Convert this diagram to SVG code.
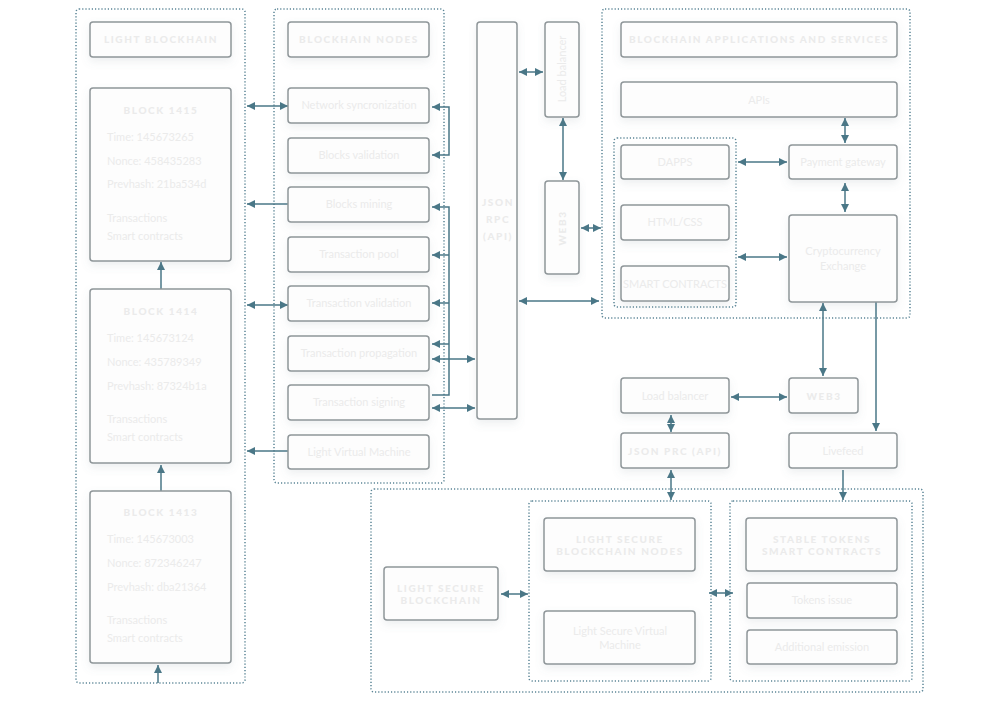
<svg xmlns="http://www.w3.org/2000/svg" width="1000" height="702" viewBox="0 0 1000 702">
<defs>
<filter id="sh" x="-20%" y="-20%" width="140%" height="160%">
<feDropShadow dx="0" dy="4" stdDeviation="4" flood-color="#6d7f88" flood-opacity="0.12"/>
</filter>
<marker id="ah" viewBox="0 0 10 10" refX="10" refY="5" markerWidth="9" markerHeight="8" markerUnits="userSpaceOnUse" orient="auto-start-reverse">
<path d="M0,0 L10,5 L0,10 z" fill="#4a7787"/>
</marker>
<style>
.box{fill:#fdfdfd;stroke:#8f9699;stroke-width:1.5;filter:url(#sh)}
.grp{fill:none;stroke:#5b8596;stroke-width:1.5;stroke-dasharray:1.2 2}
.t{font-family:"Lato","Open Sans",sans-serif;font-size:11px;fill:#ebebeb;text-anchor:middle}
.tl{font-family:"Lato","Open Sans",sans-serif;font-size:11px;fill:#ebebeb}
.h{font-family:"Lato","Open Sans",sans-serif;font-size:10px;font-weight:900;letter-spacing:1.6px;fill:#ebebeb;text-anchor:middle}
.c{fill:none;stroke:#4a7787;stroke-width:1.5}
.d{marker-start:url(#ah);marker-end:url(#ah)}
.e{marker-end:url(#ah)}
</style>
</defs>
<rect width="1000" height="702" fill="#ffffff"/>

<g id="containers">
<rect class="grp" x="76" y="9" width="169" height="674" rx="3"/>
<rect class="grp" x="274" y="9" width="170" height="474" rx="3"/>
<rect class="grp" x="602" y="9" width="308" height="309" rx="3"/>
<rect class="grp" x="614" y="138" width="122" height="169" rx="3"/>
<rect class="grp" x="371" y="489" width="552" height="203" rx="3"/>
<rect class="grp" x="529" y="501" width="182" height="180" rx="3"/>
<rect class="grp" x="730" y="501" width="182" height="180" rx="3"/>
</g>

<g id="connectors">
<path class="c d" d="M247,106 H288"/>
<path class="c e" d="M288,204 H247"/>
<path class="c d" d="M247,305 H288"/>
<path class="c e" d="M288,451 H247"/>
<path class="c e" d="M161,289 V262"/>
<path class="c e" d="M161,491 V465"/>
<path class="c e" d="M158,683 V665"/>
<path class="c d" d="M432,107 H449 V155 H432"/>
<path class="c e" d="M432,395 H449 V207 H432"/>
<path class="c e" d="M449,255 H432"/>
<path class="c e" d="M449,303 H432"/>
<path class="c e" d="M449,344 H432"/>
<path class="c d" d="M432,359 H475"/>
<path class="c d" d="M432,408 H475"/>
<path class="c d" d="M519,72 H543"/>
<path class="c d" d="M563,118 V180"/>
<path class="c d" d="M581,228 H601"/>
<path class="c d" d="M519,301 H599"/>
<path class="c d" d="M845,118 V143"/>
<path class="c d" d="M738,162 H787"/>
<path class="c d" d="M845,183 V212"/>
<path class="c d" d="M738,257 H787"/>
<path class="c d" d="M823,303 V376"/>
<path class="c e" d="M876,302 V431"/>
<path class="c d" d="M731,397 H787"/>
<path class="c d" d="M671,415 V432"/>
<path class="c d" d="M671,470 V500"/>
<path class="c e" d="M843,470 V500"/>
<path class="c d" d="M501,594 H528"/>
<path class="c d" d="M709,593 H733"/>
</g>

<g id="light-blockhain"><rect class="box" x="90" y="22" width="141" height="35" rx="3"/><text class="h" x="161" y="43">LIGHT BLOCKHAIN</text></g>

<g id="block-1415"><rect class="box" x="90" y="88" width="141" height="173" rx="3"/>
<text class="h" x="161" y="114">BLOCK 1415</text>
<text class="tl" x="107" y="141">Time: 145673265</text>
<text class="tl" x="107" y="165">Nonce: 458435283</text>
<text class="tl" x="107" y="188">Prevhash: 21ba534d</text>
<text class="tl" x="107" y="222">Transactions</text>
<text class="tl" x="107" y="240">Smart contracts</text></g>

<g id="block-1414"><rect class="box" x="90" y="289" width="141" height="174" rx="3"/>
<text class="h" x="161" y="315">BLOCK 1414</text>
<text class="tl" x="107" y="342">Time: 145673124</text>
<text class="tl" x="107" y="366">Nonce: 435789349</text>
<text class="tl" x="107" y="390">Prevhash: 87324b1a</text>
<text class="tl" x="107" y="423">Transactions</text>
<text class="tl" x="107" y="441">Smart contracts</text></g>

<g id="block-1413"><rect class="box" x="90" y="491" width="141" height="172" rx="3"/>
<text class="h" x="161" y="516">BLOCK 1413</text>
<text class="tl" x="107" y="543">Time: 145673003</text>
<text class="tl" x="107" y="567">Nonce: 872346247</text>
<text class="tl" x="107" y="591">Prevhash: dba21364</text>
<text class="tl" x="107" y="624">Transactions</text>
<text class="tl" x="107" y="642">Smart contracts</text></g>

<g id="blockhain-nodes"><rect class="box" x="288" y="22" width="141" height="35" rx="3"/><text class="h" x="359" y="43">BLOCKHAIN NODES</text></g>
<g id="network-sync"><rect class="box" x="288" y="88" width="141" height="35" rx="3"/><text class="t" x="359" y="109">Network syncronization</text></g>
<g id="blocks-validation"><rect class="box" x="288" y="138" width="141" height="35" rx="3"/><text class="t" x="359" y="159">Blocks validation</text></g>
<g id="blocks-mining"><rect class="box" x="288" y="187" width="141" height="35" rx="3"/><text class="t" x="359" y="208">Blocks mining</text></g>
<g id="transaction-pool"><rect class="box" x="288" y="237" width="141" height="35" rx="3"/><text class="t" x="359" y="258">Transaction pool</text></g>
<g id="transaction-validation"><rect class="box" x="288" y="286" width="141" height="35" rx="3"/><text class="t" x="359" y="307">Transaction validation</text></g>
<g id="transaction-propagation"><rect class="box" x="288" y="336" width="141" height="35" rx="3"/><text class="t" x="359" y="357">Transaction propagation</text></g>
<g id="transaction-signing"><rect class="box" x="288" y="385" width="141" height="35" rx="3"/><text class="t" x="359" y="406">Transaction signing</text></g>
<g id="light-vm"><rect class="box" x="288" y="435" width="141" height="34" rx="3"/><text class="t" x="359" y="456">Light Virtual Machine</text></g>

<g id="json-rpc"><rect class="box" x="477" y="22" width="40" height="397" rx="3"/>
<text class="h" x="498" y="206">JSON</text>
<text class="h" x="498" y="223">RPC</text>
<text class="h" x="498" y="240">(API)</text></g>

<g id="load-balancer-v"><rect class="box" x="545" y="22" width="34" height="95" rx="3"/><text class="t" transform="translate(566,69) rotate(-90)" x="0" y="0">Load balancer</text></g>
<g id="web3-v"><rect class="box" x="545" y="181" width="34" height="93" rx="3"/><text class="h" transform="translate(566,228) rotate(-90)" x="0" y="0">WEB3</text></g>

<g id="apps-title"><rect class="box" x="621" y="22" width="276" height="35" rx="3"/><text class="h" x="759" y="43">BLOCKHAIN APPLICATIONS AND SERVICES</text></g>
<g id="apis"><rect class="box" x="621" y="82" width="276" height="35" rx="3"/><text class="t" x="759" y="104">APIs</text></g>
<g id="dapps"><rect class="box" x="621" y="145" width="108" height="34" rx="3"/><text class="t" x="675" y="166">DAPPS</text></g>
<g id="html-css"><rect class="box" x="621" y="205" width="108" height="35" rx="3"/><text class="t" x="675" y="226">HTML/CSS</text></g>
<g id="smart-contracts"><rect class="box" x="621" y="266" width="108" height="35" rx="3"/><text class="t" x="675" y="288">SMART CONTRACTS</text></g>
<g id="payment-gateway"><rect class="box" x="789" y="145" width="108" height="34" rx="3"/><text class="t" x="843" y="166">Payment gateway</text></g>
<g id="crypto-exchange"><rect class="box" x="789" y="215" width="108" height="87" rx="3"/><text class="t" x="843" y="255">Cryptocurrency</text><text class="t" x="843" y="270">Exchange</text></g>

<g id="load-balancer"><rect class="box" x="621" y="378" width="108" height="35" rx="3"/><text class="t" x="675" y="400">Load balancer</text></g>
<g id="web3"><rect class="box" x="789" y="378" width="69" height="35" rx="3"/><text class="h" x="824" y="400">WEB3</text></g>
<g id="json-prc"><rect class="box" x="621" y="433" width="108" height="35" rx="3"/><text class="h" x="675" y="455">JSON PRC (API)</text></g>
<g id="livefeed"><rect class="box" x="789" y="433" width="108" height="35" rx="3"/><text class="t" x="843" y="455">Livefeed</text></g>

<g id="light-secure-blockchain"><rect class="box" x="384" y="567" width="114" height="53" rx="3"/><text class="h" x="441" y="592">LIGHT SECURE</text><text class="h" x="441" y="604">BLOCKCHAIN</text></g>
<g id="lsb-nodes"><rect class="box" x="544" y="518" width="151" height="53" rx="3"/><text class="h" x="620" y="543">LIGHT SECURE</text><text class="h" x="620" y="555">BLOCKCHAIN NODES</text></g>
<g id="lsb-vm"><rect class="box" x="544" y="611" width="151" height="53" rx="3"/><text class="t" x="620" y="635">Light Secure Virtual</text><text class="t" x="620" y="649">Machine</text></g>
<g id="stable-tokens"><rect class="box" x="746" y="518" width="151" height="53" rx="3"/><text class="h" x="822" y="543">STABLE TOKENS</text><text class="h" x="822" y="555">SMART CONTRACTS</text></g>
<g id="tokens-issue"><rect class="box" x="747" y="583" width="150" height="35" rx="3"/><text class="t" x="822" y="604">Tokens issue</text></g>
<g id="additional-emission"><rect class="box" x="747" y="630" width="150" height="34" rx="3"/><text class="t" x="822" y="651">Additional emission</text></g>
</svg>
